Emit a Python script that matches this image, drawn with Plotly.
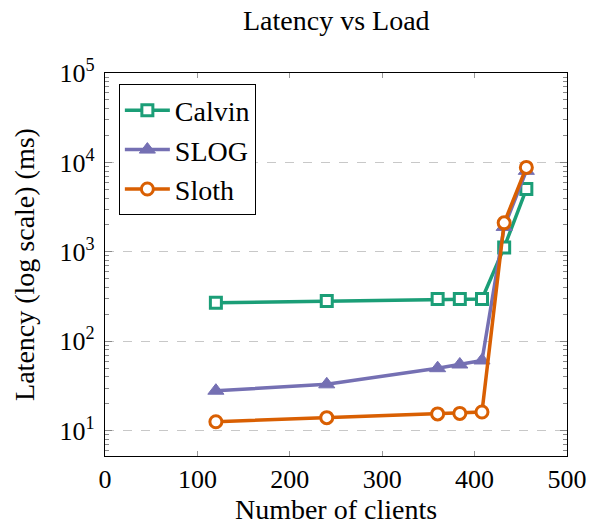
import plotly.graph_objects as go

clients = [120, 240, 360, 384, 408, 432, 456]
calvin = [270, 282, 297, 297, 297, 1120, 5030]
slog = [28, 33, 50, 55, 61, 1900, 8050]
sloth = [12.6, 14, 15.4, 15.6, 16.2, 2110, 8800]

ytick_vals = [10, 100, 1000, 10000, 100000]
ytick_text = ["10<sup>1</sup>", "10<sup>2</sup>", "10<sup>3</sup>", "10<sup>4</sup>", "10<sup>5</sup>"]
xtick_vals = [0, 100, 200, 300, 400, 500]

FONT = "'Liberation Serif', 'Times New Roman', serif"

fig = go.Figure()
fig.add_trace(go.Scatter(
    x=clients, y=calvin, name="Calvin", mode="lines+markers",
    line=dict(color="#1b9e77", width=3.5),
    marker=dict(symbol="square", size=11, color="white", line=dict(color="#1b9e77", width=3)),
))
fig.add_trace(go.Scatter(
    x=clients, y=slog, name="SLOG", mode="lines+markers",
    line=dict(color="#7570b3", width=3.5),
    marker=dict(symbol="triangle-up", size=14, color="#7570b3", line=dict(color="#7570b3", width=1)),
))
fig.add_trace(go.Scatter(
    x=clients, y=sloth, name="Sloth", mode="lines+markers",
    line=dict(color="#d95f02", width=3.5),
    marker=dict(symbol="circle", size=12, color="white", line=dict(color="#d95f02", width=3)),
))

fig.update_layout(
    width=590, height=531,
    margin=dict(l=105, r=23, t=73, b=75, autoexpand=False),
    paper_bgcolor="white", plot_bgcolor="white",
    font=dict(family=FONT, size=26, color="black"),
    title=dict(text="Latency vs Load", x=0.57, xanchor="center", y=0.962, yanchor="middle",
               font=dict(family=FONT, size=28, color="black")),
    legend=dict(x=0.03, y=0.97, xanchor="left", yanchor="top",
                bordercolor="black", borderwidth=1, bgcolor="white",
                font=dict(family=FONT, size=28, color="black"),
                tracegroupgap=0, itemwidth=45),
    showlegend=True,
)

fig.update_xaxes(
    range=[0, 500], tickvals=xtick_vals, ticks="inside", ticklen=5, tickcolor="#999999",
    showline=True, linecolor="black", linewidth=1.2, mirror="allticks",
    showgrid=False, zeroline=False, automargin=False,
    tickfont=dict(family=FONT, size=26, color="black"),
    title=dict(text="Number of clients", font=dict(family=FONT, size=28, color="black"), standoff=6),
)
fig.update_yaxes(
    type="log", range=[0.717, 5], tickvals=ytick_vals, ticktext=ytick_text,
    ticks="inside", ticklen=7, tickcolor="#888888",
    showline=True, linecolor="black", linewidth=1.2, mirror="allticks",
    showgrid=True, gridcolor="#c8c8c8", griddash="dash", gridwidth=1, zeroline=False,
    automargin=False, ticklabelstandoff=4,
    minor=dict(ticks="inside", ticklen=4, tickcolor="#888888", dtick="D1", showgrid=False),
    tickfont=dict(family=FONT, size=26, color="black"),
    title=dict(text="Latency (log scale) (ms)", font=dict(family=FONT, size=28, color="black"), standoff=16),
)

fig.write_html("out.html")
